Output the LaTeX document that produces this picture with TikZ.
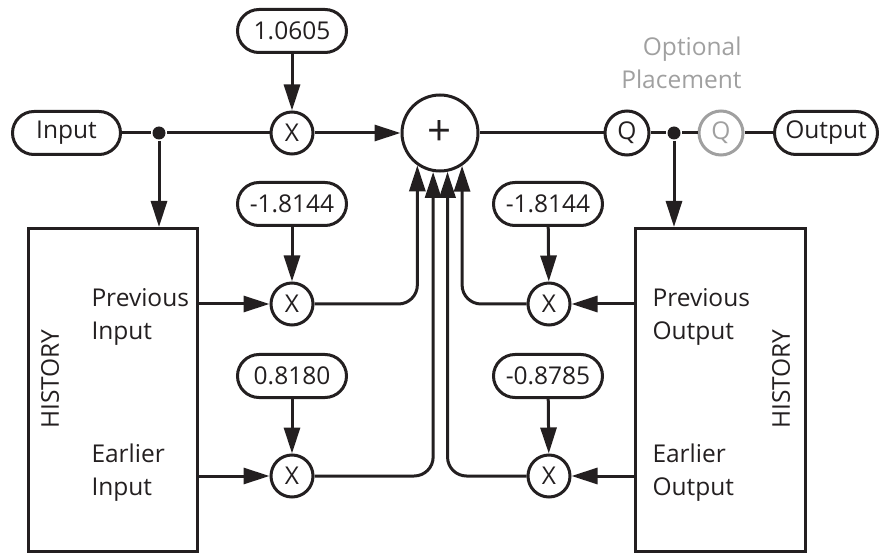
\documentclass[tikz,border=0pt]{standalone}
\usepackage{fontspec}
\setmainfont{Open Sans}
\usetikzlibrary{arrows.meta}
\definecolor{ink}{HTML}{231F20}
\definecolor{optgray}{HTML}{A0A0A0}
\begin{document}
\begin{tikzpicture}[x=1pt,y=-1pt, line width=3pt, draw=ink,
 every node/.style={font=\fontsize{24.5}{33}\selectfont, text=ink},
 pill/.style={draw, rounded corners=21.5pt, minimum height=43pt, minimum width=109pt, inner sep=0pt},
 mult/.style={draw, circle, minimum size=42pt, inner sep=0pt},
 qbox/.style={draw, circle, minimum size=44pt, inner sep=0pt},
 blockbox/.style={draw, rectangle, inner sep=0pt, minimum width=169.5pt, minimum height=323pt},
 dot/.style={circle, fill=ink, inner sep=0pt, minimum size=13pt},
 lbl/.style={inner sep=0pt, anchor=base west, align=left},
 arr/.style={-{Triangle[length=26pt,width=16pt]}},
 conn/.style={rounded corners=19pt}
]
\useasboundingbox (0,0) rectangle (879,556);

% top row
\node[pill, minimum width=108pt] (in) at (66.5,133) {Input};
\node[dot] (d1) at (159,133) {};
\node[mult] (m1) at (292,133) {X};
\node[pill] (c1) at (292,31) {1.0605};
\node[draw, circle, minimum size=76pt, inner sep=0pt] (sum) at (440,133) {\fontsize{42}{42}\selectfont +};
\node[qbox] (q1) at (627,133) {Q};
\node[dot] (d2) at (674,133) {};
\node[qbox, draw=optgray, text=optgray] (q2) at (721,133) {Q};
\node[pill, minimum width=103pt] (out) at (826,133) {Output};
\node[inner sep=0pt, anchor=base east, align=right, text=optgray] (opt) at (743,89) {Optional\\Placement};

% history boxes
\node[blockbox] (hl) at (113,390) {};
\node[blockbox] (hr) at (720.5,390) {};
\node[rotate=90, inner sep=0pt] (hlt) at (50,379) {HISTORY};
\node[rotate=90, inner sep=0pt] (hrt) at (781,379) {HISTORY};
\node[lbl] (pi) at (90,340) {Previous\\Input};
\node[lbl] (ei) at (90,495) {Earlier\\Input};
\node[lbl] (po) at (651,340) {Previous\\Output};
\node[lbl] (eo) at (651,495) {Earlier\\Output};

% multipliers
\node[mult] (m2) at (292,304) {X};
\node[pill] (c2) at (292,204) {-1.8144};
\node[mult] (m3) at (292,476) {X};
\node[pill] (c3) at (292,376) {0.8180};
\node[mult] (m4) at (549,304) {X};
\node[pill] (c4) at (548,204) {-1.8144};
\node[mult] (m5) at (549,476) {X};
\node[pill] (c5) at (548,376) {-0.8785};

% connectors top
\draw (in) -- (d1) -- (m1);
\draw[arr] (m1) -- (sum);
\draw[arr] (c1) -- (m1);
\draw (sum) -- (q1);
\draw (q1) -- (d2) -- (q2);
\draw (q2) -- (out);
\draw[arr] (d1) -- (d1 |- hl.north);
\draw[arr] (d2) -- (d2 |- hr.north);

% coefficient arrows
\draw[arr] (c2) -- (m2);
\draw[arr] (c3) -- (m3);
\draw[arr] (c4) -- (m4);
\draw[arr] (c5) -- (m5);

% history to multipliers
\draw[arr] (hl.east |- m2) -- (m2);
\draw[arr] (hl.east |- m3) -- (m3);
\draw[arr] (hr.west |- m4) -- (m4);
\draw[arr] (hr.west |- m5) -- (m5);

% multipliers to sum
\draw[arr, conn] (m2) -| (sum.235.9);
\draw[arr, conn] (m3) -| (sum.260.2);
\draw[arr, conn] (m4) -| (sum.304.1);
\draw[arr, conn] (m5) -| (sum.281.3);
\end{tikzpicture}
\end{document}
